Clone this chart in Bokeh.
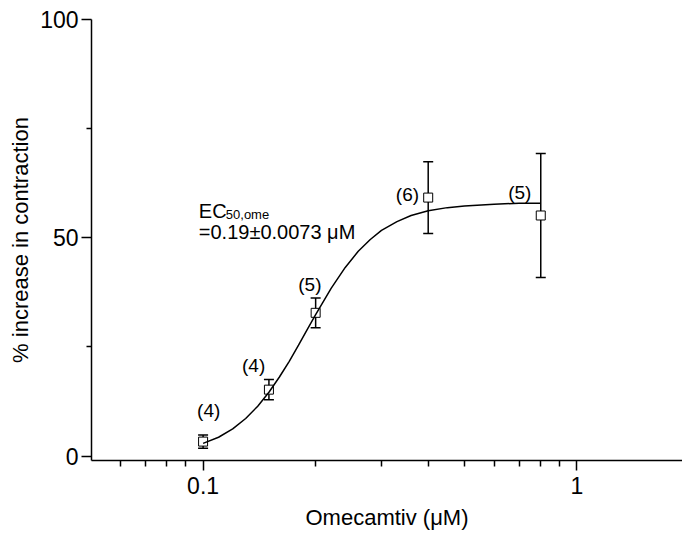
from bokeh.plotting import figure
from bokeh.models import (FixedTicker, CustomJSTickFormatter, Whisker, TeeHead,
                          ColumnDataSource, Range1d)
from bokeh.core.properties import value
from bokeh.embed import file_html
from bokeh.resources import INLINE

# ---- data ----
conc = [0.1, 0.15, 0.2, 0.4, 0.8]            # Omecamtiv (uM)
mean = [3.3, 15.2, 32.8, 59.2, 55.1]         # % increase in contraction
sem = [1.5, 2.3, 3.4, 8.2, 14.2]             # error bar half-length
n_labels = ["(4)", "(4)", "(5)", "(6)", "(5)"]
n_label_x = [0.1035, 0.1365, 0.193, 0.352, 0.703]
n_label_y = [10.4, 20.7, 39.2, 59.8, 60.4]

# fitted curve
curve_x = [0.10, 0.11, 0.12, 0.13, 0.14, 0.15, 0.16, 0.17, 0.18, 0.19, 0.20,
           0.22, 0.24, 0.26, 0.28, 0.30, 0.33, 0.36, 0.40, 0.45, 0.50, 0.60,
           0.70, 0.80]
curve_y = [2.9, 4.3, 6.2, 8.6, 11.4, 14.6, 18.1, 21.7, 25.4, 29.0, 32.4,
           38.4, 43.2, 46.9, 49.6, 51.7, 53.7, 55.1, 56.2, 56.9, 57.3, 57.7,
           57.9, 57.9]

x_major = [0.1, 1]
x_minor = [0.06, 0.07, 0.08, 0.09, 0.2, 0.3, 0.4, 0.5, 0.6, 0.7, 0.8, 0.9]
y_major = [0, 50, 100]
y_minor = [25, 75]

ec50_title = "EC"
ec50_sub = "50,ome"
ec50_value = "=0.19\u00b10.0073 \u03bcM"

FONT = "Liberation Sans"

p = figure(width=682, height=535, x_axis_type="log",
           x_range=Range1d(0.0503, 1.915), y_range=Range1d(-1.03, 100),
           output_backend="svg", toolbar_location=None,
           min_border_left=91, min_border_right=0, min_border_top=19,
           min_border_bottom=75)
p.outline_line_color = None
p.xgrid.visible = False
p.ygrid.visible = False
p.background_fill_color = "white"
p.border_fill_color = "white"

# axes
for ax in (p.xaxis[0], p.yaxis[0]):
    ax.axis_line_color = "black"
    ax.axis_line_width = 1.5
    ax.major_tick_line_color = "black"
    ax.major_tick_line_width = 1.5
    ax.minor_tick_line_color = "black"
    ax.minor_tick_line_width = 1.5
    ax.major_tick_in = 0
    ax.major_tick_out = 10
    ax.minor_tick_in = 0
    ax.minor_tick_out = 5
    ax.major_label_text_font = FONT
    ax.major_label_text_font_size = "23px"
    ax.major_label_text_color = "black"
    ax.axis_label_text_font = FONT
    ax.axis_label_text_font_size = "22px"
    ax.axis_label_text_font_style = "normal"
    ax.axis_label_text_color = "black"

p.xaxis.ticker = FixedTicker(ticks=x_major, minor_ticks=x_minor)
p.xaxis.formatter = CustomJSTickFormatter(code="return String(tick)")
p.xaxis.major_label_standoff = 6
p.xaxis.axis_label = "Omecamtiv (\u03bcM)"
p.xaxis.axis_label_standoff = 8
p.xaxis.minor_tick_out = 6

p.yaxis.ticker = FixedTicker(ticks=y_major, minor_ticks=y_minor)
p.yaxis.major_label_standoff = 3
p.yaxis.axis_label = "% increase in contraction"
p.yaxis.axis_label_standoff = 4

# error bars
upper = [m + s for m, s in zip(mean, sem)]
lower = [m - s for m, s in zip(mean, sem)]
src = ColumnDataSource(dict(x=conc, y=mean, upper=upper, lower=lower))
wh = Whisker(source=src, base="x", upper="upper", lower="lower",
             line_color="black", line_width=1.5,
             upper_head=TeeHead(size=10, line_color="black", line_width=1.5),
             lower_head=TeeHead(size=10, line_color="black", line_width=1.5))
p.add_layout(wh)

# points
p.scatter("x", "y", source=src, marker="square", size=9,
          fill_color="white", line_color="black", line_width=1)

# fitted curve
p.line(curve_x, curve_y, line_color="black", line_width=1.5)

# n labels
p.text(x=n_label_x, y=n_label_y, text=n_labels, text_font=value(FONT),
       text_font_size="19px", text_align="center", text_baseline="middle",
       text_color="black")

# EC50 annotation
p.text(x=[0.0974], y=[56.2], text=[ec50_title], text_font=value(FONT),
       text_font_size="20px", text_align="left", text_baseline="alphabetic",
       text_color="black")
p.text(x=[0.0974], y=[56.2], text=[ec50_sub], text_font=value(FONT),
       text_font_size="13px", text_align="left", text_baseline="alphabetic",
       text_color="black", x_offset=27, y_offset=3.5)
p.text(x=[0.0974], y=[51.3], text=[ec50_value], text_font=value(FONT),
       text_font_size="20px", text_align="left", text_baseline="alphabetic",
       text_color="black")

open("out.html", "w").write(file_html(p, INLINE))
